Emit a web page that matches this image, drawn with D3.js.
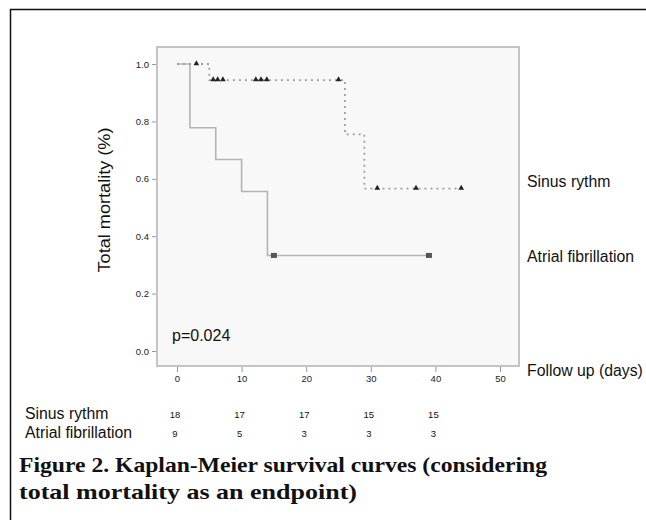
<!DOCTYPE html>
<html>
<head>
<meta charset="utf-8">
<script src="https://cdn.jsdelivr.net/npm/d3@7"></script>
<style>
  body { margin: 0; background: #fff; }
  svg { display: block; }
</style>
</head>
<body>
<svg></svg>
<script>
// Kaplan-Meier steps: [day, survival]
let sinusSteps = [[0, 1.0], [5, 0.944], [26, 0.755], [29, 0.566], [44, 0.566]];
let sinusCensored = [[3, 1.0], [5.6, 0.944], [6.3, 0.944], [7.1, 0.944], [12.2, 0.944], [13, 0.944], [13.9, 0.944], [25, 0.944], [31, 0.566], [37, 0.566], [44, 0.566]];

let afSteps = [[0, 1.0], [2, 0.778], [6, 0.667], [10, 0.556], [14, 0.333], [39, 0.333]];
let afCensored = [[15, 0.333], [39, 0.333]];

let xTicks = [0, 10, 20, 30, 40, 50];
let yTicks = [0.0, 0.2, 0.4, 0.6, 0.8, 1.0];

let riskDays = [0, 10, 20, 30, 40];
let riskSinus = [18, 17, 17, 15, 15];
let riskAF = [9, 5, 3, 3, 3];

let width = 646;
let height = 520;

let svg = d3.select("svg").attr("width", width).attr("height", height);

// outer frame (left + top)
svg.append("path")
  .attr("d", "M10.5," + height + " V9.5 H" + width)
  .attr("fill", "none")
  .attr("stroke", "#111")
  .attr("stroke-width", 1.5);

let box = { left: 157, top: 47, right: 519, bottom: 366 };

let xScale = d3.scaleLinear().domain([0, 50]).range([177, 500]);
let yScale = d3.scaleLinear().domain([0, 1]).range([351, 64]);

svg.append("rect")
  .attr("x", box.left).attr("y", box.top)
  .attr("width", box.right - box.left).attr("height", box.bottom - box.top)
  .attr("fill", "#f8f8f8")
  .attr("stroke", "#c4c4c4")
  .attr("stroke-width", 2);

// axes
let yAxis = d3.axisLeft(yScale).tickValues(yTicks).tickFormat(d3.format(".1f")).tickSize(4).tickPadding(3);
let gy = svg.append("g").attr("transform", "translate(" + (box.left - 1) + ",0)").call(yAxis);
gy.select(".domain").remove();
gy.selectAll("line").attr("stroke", "#999");
gy.selectAll("text").attr("font-family", "Arial, 'Liberation Sans', sans-serif").attr("font-size", 9.5).attr("fill", "#222");

let xAxis = d3.axisBottom(xScale).tickValues(xTicks).tickSize(5).tickPadding(3);
let gx = svg.append("g").attr("transform", "translate(0," + (box.bottom + 1) + ")").call(xAxis);
gx.select(".domain").remove();
gx.selectAll("line").attr("stroke", "#999");
gx.selectAll("text").attr("font-family", "Arial, 'Liberation Sans', sans-serif").attr("font-size", 9.5).attr("fill", "#222");

// step lines
let line = d3.line()
  .x((d) => xScale(d[0]))
  .y((d) => yScale(d[1]))
  .curve(d3.curveStepAfter);

svg.append("path")
  .datum(afSteps)
  .attr("d", line)
  .attr("fill", "none")
  .attr("stroke", "#b4b4b4")
  .attr("stroke-width", 1.6);

svg.append("path")
  .datum(sinusSteps)
  .attr("d", line)
  .attr("fill", "none")
  .attr("stroke", "#a0a0a0")
  .attr("stroke-width", 1.8)
  .attr("stroke-dasharray", "2,4");

// censor marks
svg.selectAll(".tri")
  .data(sinusCensored)
  .enter()
  .append("path")
  .attr("class", "tri")
  .attr("d", d3.symbol().type(d3.symbolTriangle).size(14))
  .attr("transform", (d) => "translate(" + xScale(d[0]) + "," + (yScale(d[1]) - 0.5) + ")")
  .attr("fill", "#222");

svg.selectAll(".sq")
  .data(afCensored)
  .enter()
  .append("rect")
  .attr("class", "sq")
  .attr("x", (d) => xScale(d[0]) - 3)
  .attr("y", (d) => yScale(d[1]) - 2.5)
  .attr("width", 6)
  .attr("height", 5)
  .attr("fill", "#555");

let sans = "Arial, 'Liberation Sans', sans-serif";

svg.append("text")
  .attr("x", 172).attr("y", 341)
  .attr("font-family", sans).attr("font-size", 16).attr("fill", "#111")
  .text("p=0.024");

svg.append("text")
  .attr("transform", "translate(110,200) rotate(-90)")
  .attr("text-anchor", "middle")
  .attr("font-family", sans).attr("font-size", 16).attr("fill", "#111")
  .attr("textLength", 145)
  .attr("lengthAdjust", "spacingAndGlyphs")
  .text("Total mortality (%)");

let sideLabels = [["Sinus rythm", 187], ["Atrial fibrillation", 262], ["Follow up (days)", 376]];
svg.selectAll(".side")
  .data(sideLabels)
  .enter()
  .append("text")
  .attr("x", 527)
  .attr("y", (d) => d[1])
  .attr("font-family", sans).attr("font-size", 15.8).attr("fill", "#111")
  .text((d) => d[0]);

// numbers at risk
let riskRows = [["Sinus rythm", riskSinus, 419], ["Atrial fibrillation", riskAF, 438]];
riskRows.forEach((row) => {
  svg.append("text")
    .attr("x", 25).attr("y", row[2])
    .attr("font-family", sans).attr("font-size", 15.8).attr("fill", "#111")
    .text(row[0]);
  svg.selectAll(null)
    .data(row[1])
    .enter()
    .append("text")
    .attr("x", (d, i) => xScale(riskDays[i]) - 2)
    .attr("y", row[2] - 1)
    .attr("text-anchor", "middle")
    .attr("font-family", sans).attr("font-size", 9.5).attr("fill", "#111")
    .text((d) => d);
});

// caption
let serif = "'Liberation Serif', 'DejaVu Serif', serif";
let caption = [["Figure 2. Kaplan-Meier survival curves (considering", 528], ["total mortality as an endpoint)", 338]];
svg.selectAll(".cap")
  .data(caption)
  .enter()
  .append("text")
  .attr("x", 19)
  .attr("y", (d, i) => 472 + i * 27)
  .attr("font-family", serif).attr("font-size", 21).attr("font-weight", "bold").attr("fill", "#111")
  .attr("textLength", (d) => d[1])
  .attr("lengthAdjust", "spacingAndGlyphs")
  .text((d) => d[0]);
</script>
</body>
</html>
